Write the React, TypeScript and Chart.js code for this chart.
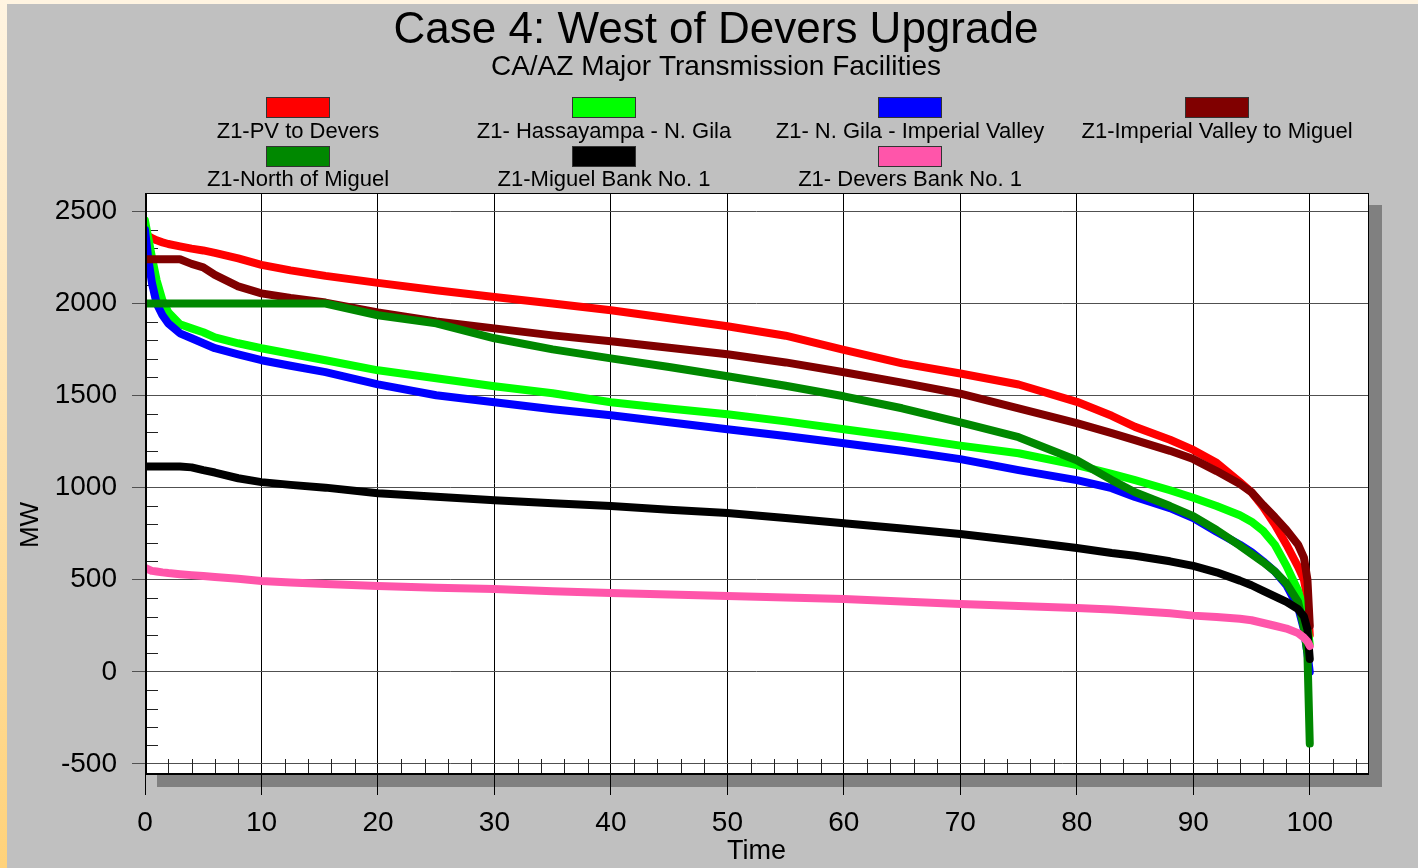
import React, { useEffect, useRef } from "react";
import { Chart, registerables } from "chart.js";

Chart.register(...registerables);

const FONT = '"Liberation Sans", Arial, Helvetica, sans-serif';

// Percent of time (x axis)
const time = [0, 0.3, 0.6, 1, 1.5, 2, 3, 4, 5, 6, 8, 10, 12.5, 15.5, 20, 25, 30, 35, 40, 45, 50, 55, 60, 65, 70, 75, 80, 83, 85, 88, 90, 92, 94, 95, 96, 97, 98, 99, 99.5, 99.8, 100];

// MW values for each series
const pvToDevers = [2385, 2365, 2355, 2343, 2332, 2323, 2310, 2298, 2288, 2275, 2245, 2210, 2180, 2150, 2112, 2072, 2035, 2000, 1963, 1920, 1876, 1825, 1748, 1675, 1620, 1560, 1466, 1390, 1330, 1260, 1205, 1135, 1030, 975, 895, 800, 690, 570, 500, 400, 200];
const hassayampaNGila = [2450, 2350, 2250, 2126, 2017, 1952, 1887, 1865, 1844, 1816, 1784, 1757, 1727, 1692, 1637, 1594, 1551, 1513, 1464, 1430, 1399, 1360, 1317, 1275, 1228, 1187, 1122, 1075, 1041, 986, 945, 900, 850, 815, 765, 690, 575, 440, 330, 240, 150];
const nGilaImperialValley = [2400, 2234, 2110, 2000, 1936, 1892, 1838, 1811, 1784, 1757, 1724, 1692, 1662, 1627, 1561, 1502, 1464, 1426, 1393, 1355, 1317, 1280, 1241, 1200, 1155, 1095, 1041, 997, 949, 889, 835, 760, 690, 650, 600, 545, 470, 350, 230, 100, 0];
const imperialValleyToMiguel = [2240, 2240, 2240, 2240, 2240, 2240, 2240, 2215, 2196, 2155, 2093, 2055, 2030, 2005, 1952, 1903, 1865, 1827, 1795, 1760, 1724, 1680, 1627, 1570, 1510, 1431, 1350, 1296, 1258, 1200, 1155, 1090, 1020, 975, 905, 840, 770, 690, 620, 500, 250];
const northOfMiguel = [2000, 2000, 2000, 2000, 2000, 2000, 2000, 2000, 2000, 2000, 2000, 2000, 2000, 2000, 1936, 1892, 1811, 1751, 1702, 1655, 1605, 1553, 1496, 1431, 1355, 1274, 1149, 1041, 975, 900, 845, 770, 685, 640, 595, 545, 480, 380, 240, 100, -390];
const miguelBank1 = [1115, 1115, 1115, 1115, 1115, 1115, 1115, 1110, 1095, 1082, 1051, 1030, 1015, 1000, 970, 950, 932, 915, 900, 880, 862, 835, 807, 778, 748, 712, 672, 645, 630, 600, 575, 540, 495, 470, 440, 410, 380, 340, 300, 230, 70];
const deversBank1 = [565, 555, 548, 545, 540, 536, 530, 525, 520, 515, 505, 493, 485, 477, 466, 457, 449, 438, 428, 420, 411, 403, 395, 382, 368, 357, 346, 338, 330, 318, 305, 298, 288, 280, 265, 250, 235, 210, 185, 165, 140];

const seriesValues = [pvToDevers, hassayampaNGila, nGilaImperialValley, imperialValleyToMiguel, northOfMiguel, miguelBank1, deversBank1];
const seriesLabels = [
  "Z1-PV to Devers",
  "Z1- Hassayampa - N. Gila",
  "Z1- N. Gila - Imperial Valley",
  "Z1-Imperial Valley to Miguel",
  "Z1-North of Miguel",
  "Z1-Miguel Bank No. 1",
  "Z1- Devers Bank No. 1",
];
const seriesColors = ["#ff0000", "#00ff00", "#0000ff", "#800000", "#008800", "#000000", "#ff55aa"];

const xTickValues = [0, 10, 20, 30, 40, 50, 60, 70, 80, 90, 100];
const yTickValues = [-500, 0, 500, 1000, 1500, 2000, 2500];

const titleText = "Case 4: West of Devers Upgrade";
const subtitleText = "CA/AZ Major Transmission Facilities";
const xTitle = "Time";
const yTitle = "MW";

const decorPlugin = {
  id: "decor",
  beforeDraw(chart: any) {
    const { ctx, chartArea: a, width, height } = chart;
    ctx.save();
    ctx.fillStyle = "#c0c0c0";
    ctx.fillRect(0, 0, width, height);
    ctx.fillStyle = "#fff4e1";
    ctx.fillRect(0, 0, width, 4);
    const g = ctx.createLinearGradient(0, 0, 0, height);
    g.addColorStop(0, "#fff4e1");
    g.addColorStop(1, "#ffd27a");
    ctx.fillStyle = g;
    ctx.fillRect(0, 0, 7, height);
    // shadow
    ctx.fillStyle = "#808080";
    ctx.fillRect(a.left + 12, a.top + 12, a.right - a.left + 2, a.bottom - a.top + 1);
    ctx.fillStyle = "#ffffff";
    ctx.fillRect(a.left, a.top, a.right - a.left, a.bottom - a.top);
    ctx.restore();
  },
  beforeDatasetsDraw(chart: any) {
    const { ctx, chartArea: a, scales } = chart;
    const xs = scales.x;
    const ys = scales.y;
    ctx.save();
    ctx.strokeStyle = "#222";
    ctx.lineWidth = 1;
    ctx.beginPath();
    for (let v = -400; v < 2600; v += 100) {
      if (v % 500 === 0) continue;
      const py = Math.round(ys.getPixelForValue(v)) + 0.5;
      ctx.moveTo(a.left, py);
      ctx.lineTo(a.left + 13, py);
    }
    for (let v = 2; v <= 104; v += 2) {
      if (v % 10 === 0) continue;
      const px = Math.round(xs.getPixelForValue(v)) + 0.5;
      ctx.moveTo(px, a.bottom);
      ctx.lineTo(px, a.bottom - 15);
    }
    ctx.stroke();
    ctx.restore();
  },
  afterDraw(chart: any) {
    const { ctx, chartArea: a } = chart;
    ctx.save();
    // frame
    ctx.strokeStyle = "#000";
    ctx.lineWidth = 1;
    ctx.strokeRect(a.left + 0.5, a.top + 0.5, a.right - a.left, a.bottom - a.top);
    ctx.fillStyle = "#000";
    ctx.fillRect(a.left, a.top, 2, a.bottom - a.top);
    ctx.fillRect(a.left, a.bottom - 1, a.right - a.left + 1, 2);

    // titles
    const cx = 716;
    ctx.fillStyle = "#000";
    ctx.textAlign = "center";
    ctx.textBaseline = "middle";
    ctx.font = `44px ${FONT}`;
    ctx.fillText(titleText, cx, 31);
    ctx.font = `28px ${FONT}`;
    ctx.fillText(subtitleText, cx, 67);

    // legend
    const colCenters = [298, 604, 910, 1217];
    const rowSwatchTop = [97, 146];
    const rowTextY = [132, 180];
    ctx.font = `22px ${FONT}`;
    chart.data.datasets.forEach((ds: any, i: number) => {
      const r = Math.floor(i / 4);
      const c = i % 4;
      const x = colCenters[c];
      ctx.fillStyle = ds.borderColor;
      ctx.fillRect(x - 32, rowSwatchTop[r], 64, 21);
      ctx.strokeStyle = "#333";
      ctx.lineWidth = 1;
      ctx.strokeRect(x - 32 + 0.5, rowSwatchTop[r] + 0.5, 63, 20);
      ctx.fillStyle = "#000";
      ctx.fillText(ds.label, x, rowTextY[r]);
    });

    // axis titles
    ctx.font = `27px ${FONT}`;
    ctx.fillText(xTitle, (a.left + a.right) / 2, 852);
    ctx.save();
    ctx.translate(31, 525);
    ctx.rotate(-Math.PI / 2);
    ctx.font = `26px ${FONT}`;
    ctx.fillText(yTitle, 0, 0);
    ctx.restore();
    ctx.restore();
  },
};

export default function App() {
  const canvasRef = useRef<HTMLCanvasElement | null>(null);

  useEffect(() => {
    const canvas = canvasRef.current;
    if (!canvas) return;
    const datasets = seriesValues.map((vals, i) => ({
      label: seriesLabels[i],
      data: time.map((t, j) => ({ x: t, y: vals[j] })),
      borderColor: seriesColors[i],
      backgroundColor: seriesColors[i],
      borderWidth: 8,
      pointRadius: 0,
      tension: 0,
      fill: false,
      borderCapStyle: "round" as const,
      borderJoinStyle: "round" as const,
      order: 10 - i,
      clip: 0,
    }));

    const chart = new Chart(canvas, {
      type: "line",
      data: { datasets },
      plugins: [decorPlugin],
      options: {
        animation: false,
        responsive: false,
        devicePixelRatio: 1,
        events: [],
        layout: { padding: { top: 193, right: 50, left: 0, bottom: 0 } },
        plugins: {
          legend: { display: false },
          title: { display: false },
          tooltip: { enabled: false },
        },
        scales: {
          x: {
            type: "linear",
            min: 0,
            max: 105,
            afterBuildTicks: (s: any) => {
              s.ticks = xTickValues.map((v) => ({ value: v }));
            },
            afterFit: (s: any) => {
              s.height = 94;
            },
            grid: {
              color: "#000",
              lineWidth: 1,
              drawTicks: true,
              tickLength: 21,
              tickColor: "#000",
            },
            border: { display: false },
            ticks: {
              autoSkip: false,
              maxRotation: 0,
              padding: 11,
              color: "#000",
              font: { family: FONT, size: 28 },
              callback: (v: any) => String(v),
            },
          },
          y: {
            type: "linear",
            min: -555,
            max: 2600,
            afterBuildTicks: (s: any) => {
              s.ticks = yTickValues.map((v) => ({ value: v }));
            },
            afterFit: (s: any) => {
              s.width = 145;
            },
            grid: {
              color: "#505050",
              lineWidth: 1,
              drawTicks: true,
              tickLength: 13,
              tickColor: "#505050",
            },
            border: { display: false },
            ticks: {
              autoSkip: false,
              padding: 15,
              color: "#000",
              font: { family: FONT, size: 28 },
              callback: (v: any) => String(v),
            },
          },
        },
      },
    });
    return () => chart.destroy();
  }, []);

  return (
    <div style={{ position: "fixed", left: 0, top: 0, width: 1418, height: 868, margin: 0 }}>
      <canvas ref={canvasRef} width={1418} height={868} style={{ display: "block", width: 1418, height: 868 }} />
    </div>
  );
}
